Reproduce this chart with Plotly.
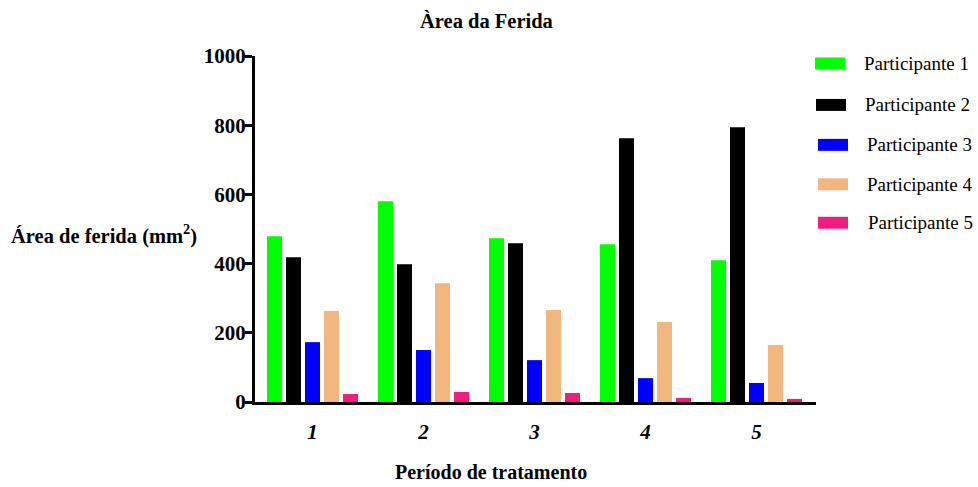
import plotly.graph_objects as go

periods = [1, 2, 3, 4, 5]
tick_labels = ["1", "2", "3", "4", "5"]
series_names = ["Participante 1", "Participante 2", "Participante 3", "Participante 4", "Participante 5"]
p1 = [479, 580, 473, 456, 410]
p2 = [418, 398, 459, 762, 794]
p3 = [173, 150, 121, 69, 55]
p4 = [263, 343, 266, 231, 165]
p5 = [23, 29, 26, 12, 9]
series_values = [p1, p2, p3, p4, p5]
colors = ["#00FF00", "#000000", "#0000FF", "#F1B77E", "#F01C80"]

W, H = 978, 487
L, R, T, B = 255, 816, 55.5, 402
FONT = "Liberation Serif, Times New Roman, Times, DejaVu Serif, serif"

def px2x(px):
    return (px - L) / (R - L)

def py2y(py):
    return (B - py) / (B - T)

fig = go.Figure()
for name, vals, col in zip(series_names, series_values, colors):
    fig.add_trace(go.Bar(x=periods, y=vals, name=name, marker=dict(color=col, line=dict(width=0)),
                         showlegend=False))

fig.update_layout(
    width=W, height=H,
    margin=dict(l=L, r=W - R, t=T, b=H - B, pad=0),
    paper_bgcolor="white", plot_bgcolor="white",
    barmode="group", bargap=0.144, bargroupgap=0.21,
    font=dict(family=FONT, color="black"),
    xaxis=dict(range=[0.482, 5.536], showgrid=False, zeroline=False,
               showline=True, linecolor="black", linewidth=3,
               tickmode="array", tickvals=periods,
               ticktext=["<b><i>%s</i></b>" % t for t in tick_labels],
               ticks="", ticklabelstandoff=9,
               tickfont=dict(family=FONT, size=21, color="black"),
               fixedrange=True),
    yaxis=dict(range=[0, 1000], showgrid=False, zeroline=False,
               showline=True, linecolor="black", linewidth=3,
               tickmode="array", tickvals=[0, 200, 400, 600, 800, 1000],
               ticktext=["<b>0</b>", "<b>200</b>", "<b>400</b>", "<b>600</b>", "<b>800</b>", "<b>1000</b>"],
               ticks="outside", ticklen=7, tickwidth=3, tickcolor="black",
               ticklabelstandoff=-5,
               tickfont=dict(family=FONT, size=21, color="black")),
)

annotations = [
    dict(text="<b>Àrea da Ferida</b>", x=px2x(486), y=py2y(20), xref="paper", yref="paper",
         showarrow=False, font=dict(family=FONT, size=20.5, color="black"), xanchor="center", yanchor="middle"),
    dict(text="<b>Área de ferida (mm<sup>2</sup>)</b>", x=px2x(9), y=py2y(234), xref="paper", yref="paper",
         showarrow=False, font=dict(family=FONT, size=20.5, color="black"), xanchor="left", yanchor="middle"),
    dict(text="<b>Período de tratamento</b>", x=px2x(491), y=py2y(472), xref="paper", yref="paper",
         showarrow=False, font=dict(family=FONT, size=20, color="black"), xanchor="center", yanchor="middle"),
]

shapes = []
leg_y = [63, 104.5, 144.5, 184, 222.5]
leg_x = [815, 816, 818, 818, 818]
txt_x = [862, 863, 865, 865, 866]
for i, (name, col) in enumerate(zip(series_names, colors)):
    cy = leg_y[i]
    shapes.append(dict(type="rect", xref="paper", yref="paper",
                       x0=px2x(leg_x[i]), x1=px2x(leg_x[i] + 30),
                       y0=py2y(cy - 6), y1=py2y(cy + 6),
                       fillcolor=col, line=dict(width=0)))
    annotations.append(dict(text=name, x=px2x(txt_x[i]), y=py2y(cy), xref="paper", yref="paper",
                            showarrow=False, font=dict(family=FONT, size=19, color="black"),
                            xanchor="left", yanchor="middle"))

fig.update_layout(annotations=annotations, shapes=shapes)
fig.write_html("out.html")
